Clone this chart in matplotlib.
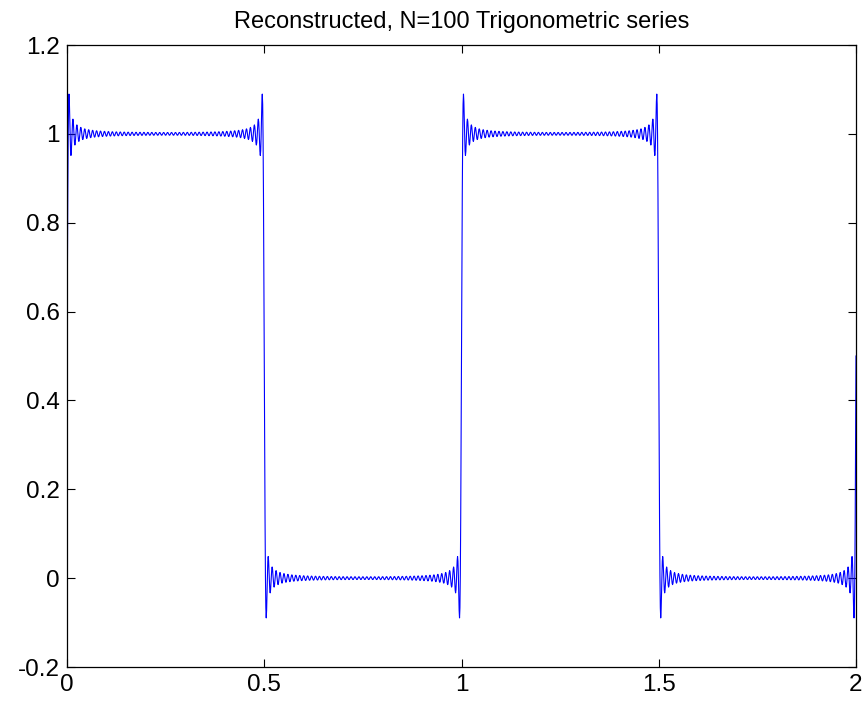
import matplotlib
matplotlib.use("Agg")
import matplotlib.pyplot as plt
import numpy as np

plt.rcParams['font.family'] = ['Liberation Sans', 'DejaVu Sans']

# square wave: high level on first half of each period
period = 1.0
high_level = 1.0
low_level = 0.0
n_terms = 100
x_range = (0.0, 2.0)
n_samples = 2001

x_ticks = [0, 0.5, 1, 1.5, 2]
y_ticks = [-0.2, 0, 0.2, 0.4, 0.6, 0.8, 1.0, 1.2]
x_tick_labels = ['0', '0.5', '1', '1.5', '2']
y_tick_labels = ['-0.2', '0', '0.2', '0.4', '0.6', '0.8', '1', '1.2']
title = 'Reconstructed, N=100 Trigonometric series'

# trigonometric partial sum of the square wave
x = np.linspace(x_range[0], x_range[1], n_samples)
amp = high_level - low_level
y = np.full_like(x, (high_level + low_level) / 2)
for k in range(1, n_terms + 1, 2):
    y += 2 * amp / (np.pi * k) * np.sin(2 * np.pi * k * x / period)

fig = plt.figure(figsize=(8.67, 7.01), dpi=100)
ax = fig.add_axes([67 / 867, 1 - 667 / 701, (856 - 67) / 867, (667 - 45) / 701])
ax.plot(x, y, color='#0000ff', linewidth=0.8)

ax.set_xlim(*x_range)
ax.set_ylim(-0.2, 1.2)
ax.set_xticks(x_ticks)
ax.set_xticklabels(x_tick_labels)
ax.set_yticks(y_ticks)
ax.set_yticklabels(y_tick_labels)
ax.tick_params(direction='in', top=True, right=True, length=6, width=0.8,
               labelsize=17.5, pad=5)
for spine in ax.spines.values():
    spine.set_linewidth(0.9)
ax.set_title(title, fontsize=17, pad=12)

fig.savefig('out.png', dpi=100, facecolor='white')
